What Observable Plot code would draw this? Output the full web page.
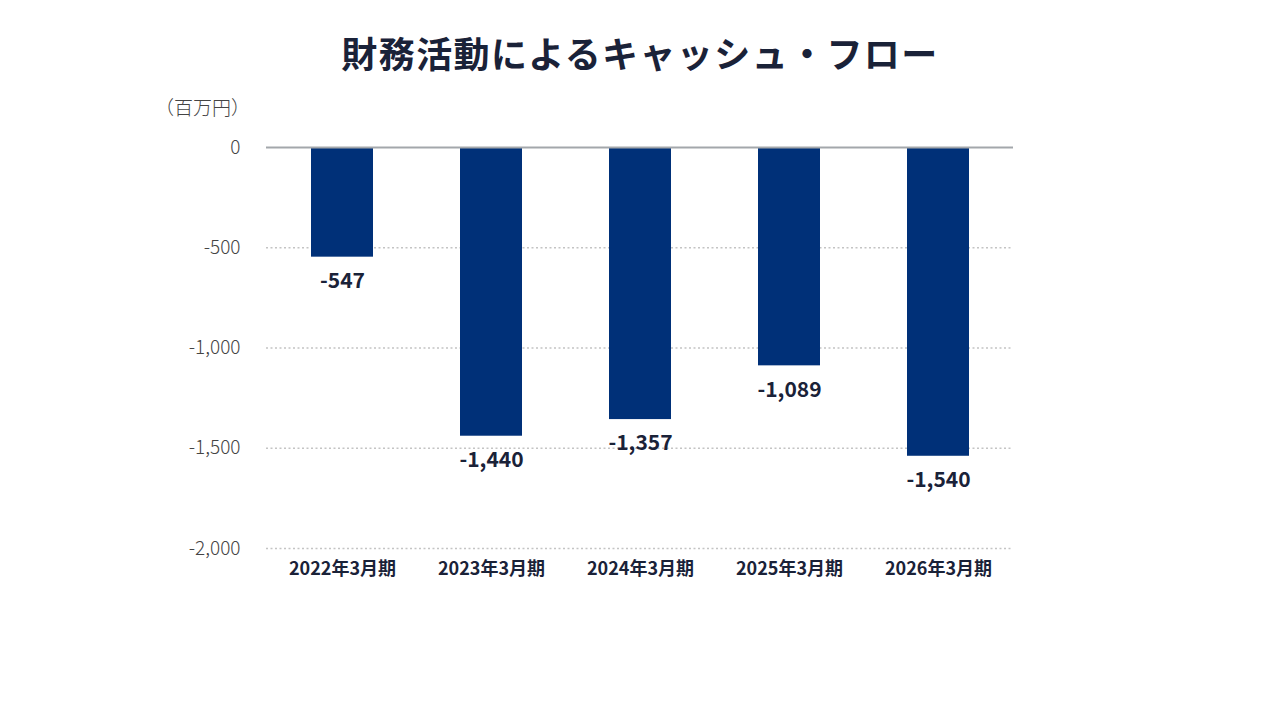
<!DOCTYPE html>
<html><head><meta charset="utf-8">
<script src="https://cdn.jsdelivr.net/npm/d3@7"></script>
<script src="https://cdn.jsdelivr.net/npm/@observablehq/plot@0.6"></script>
<style>
body{margin:0;background:#fff;font-family:"Noto Sans CJK JP","Noto Sans",sans-serif;}
#wrap{position:relative;width:1280px;height:720px;}
#title{height:90px;line-height:104px;text-align:center;font-size:36px;font-weight:700;color:#1a2238;letter-spacing:1.4px;}
#unit{position:absolute;left:155px;top:93px;font-size:19px;font-weight:300;color:#444;}
</style></head><body>
<div id="wrap"><div id="title">財務活動によるキャッシュ・フロー</div><div id="unit">（百万円）</div><div id="chart"></div></div>
<script>
const categories = ["2022年3月期","2023年3月期","2024年3月期","2025年3月期","2026年3月期"];
const values = [-547, -1440, -1357, -1089, -1540];
const yTicks = [0, -500, -1000, -1500, -2000];
const data = categories.map((c, i) => ({cat: c, v: values[i]}));
const fmt = d => d3.format(",")(d).replace("−", "-");
const chart = Plot.plot({
  width: 1280, height: 630,
  marginTop: 57, marginBottom: 172, marginLeft: 266, marginRight: 267,
  style: {fontFamily: '"Noto Sans CJK JP","Noto Sans",sans-serif', background: "#fff"},
  x: {domain: categories, paddingInner: 0.585, paddingOuter: 0.2925, label: null},
  y: {domain: [-2000, 0], label: null},
  marks: [
    Plot.gridY(yTicks.filter(d => d !== 0), {stroke: "#c4c4c4", strokeOpacity: 1, strokeDasharray: "2,2.5", strokeWidth: 1.5}),
    Plot.barY(data, {x: "cat", y: "v", fill: "#003078"}),
    Plot.ruleY([0], {stroke: "#a3a7ab", strokeWidth: 2}),
    Plot.axisY(yTicks, {tickSize: 0, tickPadding: 26, tickFormat: d => fmt(d), fontSize: 19, fill: "#444", fontWeight: 300}),
    Plot.axisX({tickSize: 0, tickPadding: 14, fontSize: 18, fontWeight: 700, fill: "#1a2238"}),
    Plot.text(data, {x: "cat", y: "v", text: d => fmt(d.v), dy: 24, fontSize: 21, fontWeight: 700, fill: "#1a2238"})
  ]
});
document.getElementById("chart").appendChild(chart);
</script></body></html>
